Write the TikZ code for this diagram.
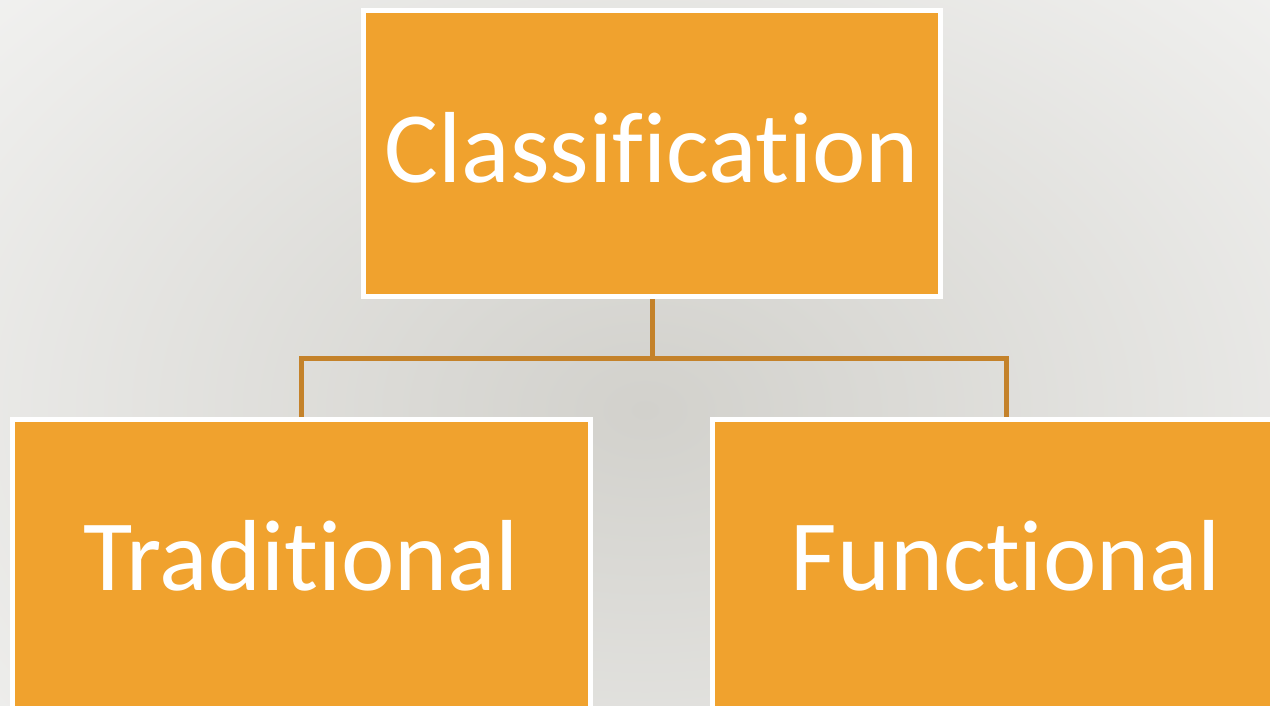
\documentclass[tikz,border=0pt]{standalone}
\usepackage{fontspec}
\setmainfont{Carlito}[Ligatures=NoCommon]
\usetikzlibrary{positioning, calc}
\definecolor{classorange}{HTML}{F0A22E}
\definecolor{classbrown}{HTML}{C4822A}
\definecolor{classbg}{HTML}{F5F5F4}
\definecolor{classshade}{HTML}{D2D1CC}

\begin{document}
\begin{tikzpicture}[
  x=1pt, y=-1pt,
  category/.style={
    rectangle, draw=white, line width=5pt,
    fill=classorange, text=white,
    minimum width=578pt, minimum height=286pt,
    text height=70pt, text depth=12pt,
    font=\fontsize{101}{112}\selectfont
  },
  leaf/.style={
    category, minimum height=300pt, text depth=29pt
  },
  link/.style={
    classbrown, line width=5pt, line join=miter
  }
]
  \useasboundingbox (0,0) rectangle (1270,706);

  % soft backdrop
  \fill[classbg] (0,0) rectangle (1270,706);
  \begin{scope}
    \clip (0,0) rectangle (1270,706);
    \shade[inner color=classshade, outer color=classbg]
      (645,410) ellipse [x radius=1000, y radius=700];
  \end{scope}

  \node[category, minimum width=577pt] (classif) at (652,153.5) {Classification};
  \node[leaf] (trad) at (301.5,569.5) {Traditional};
  \node[leaf, minimum width=587pt] (func) at (1006,569.5) {Functional};

  \draw[link] (classif.south) -- ++(0,59.5) coordinate (fork);
  \draw[link] (trad.north) |- (fork) -| (func.north);
\end{tikzpicture}
\end{document}
